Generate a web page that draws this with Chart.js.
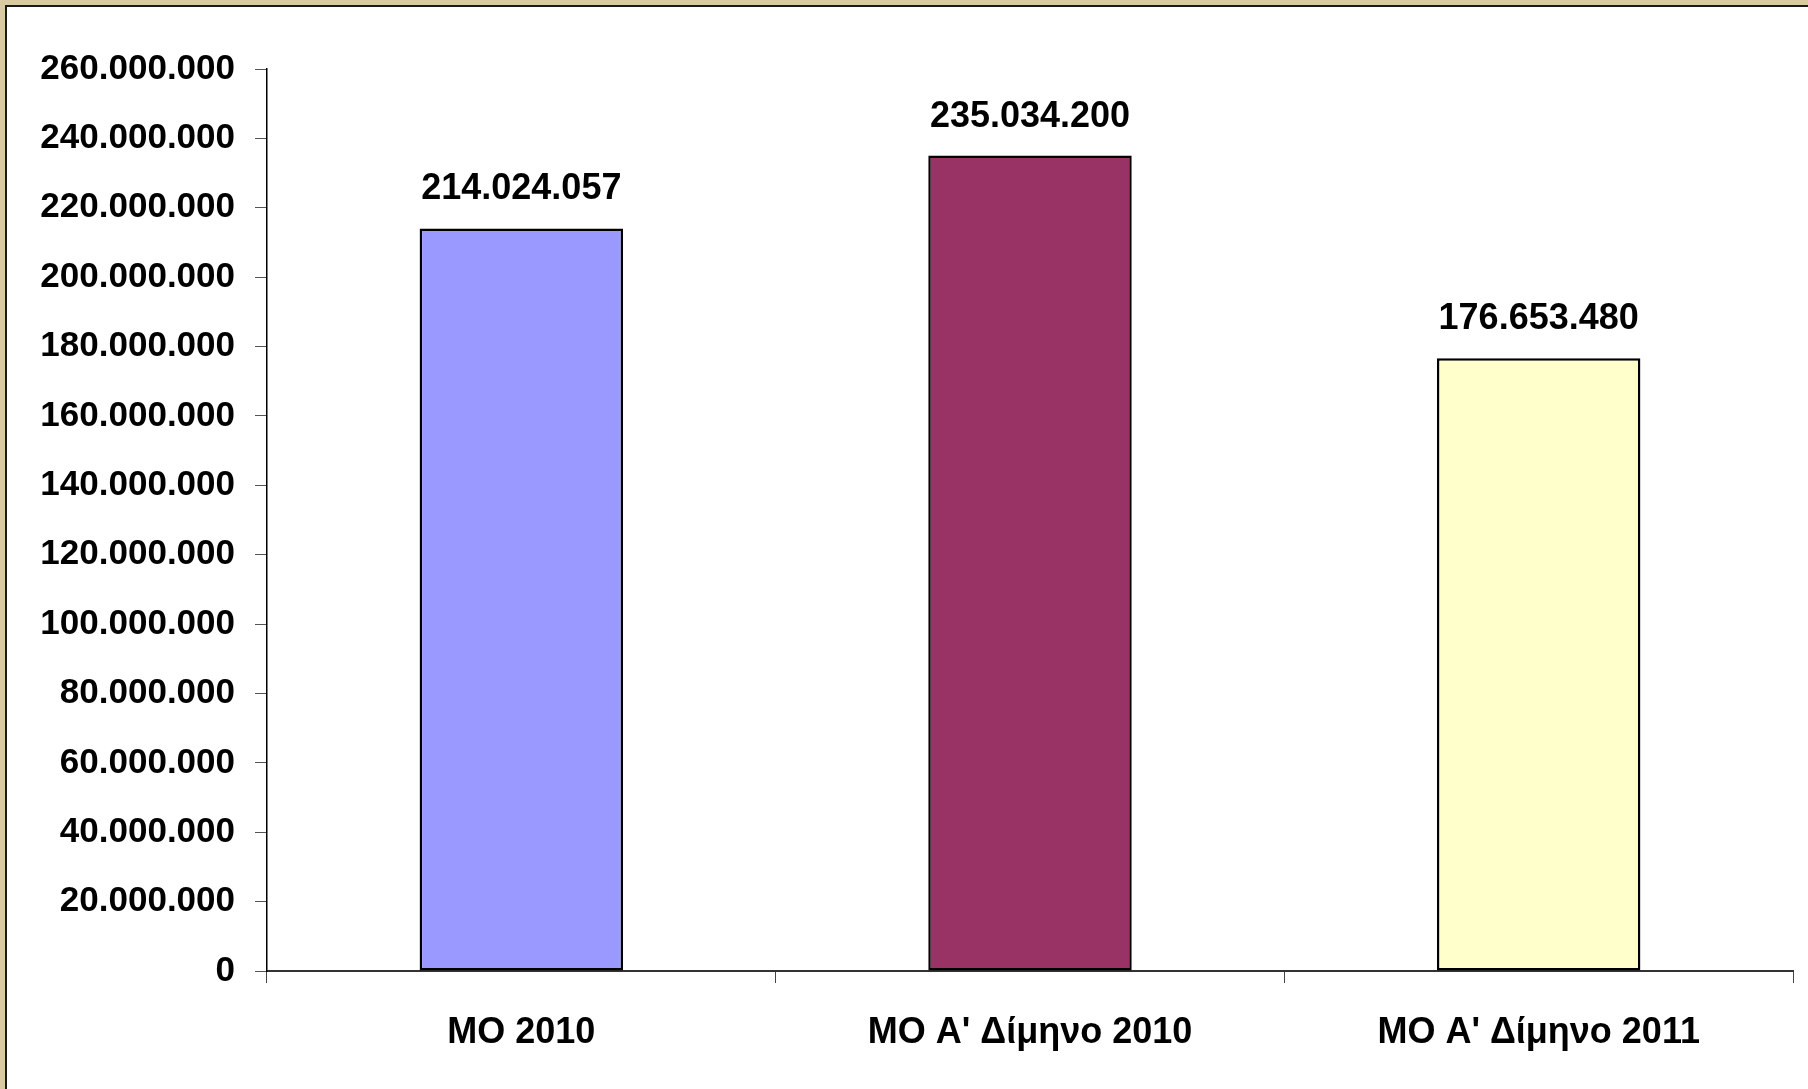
<!DOCTYPE html>
<html>
<head>
<meta charset="utf-8">
<script src="https://cdn.jsdelivr.net/npm/chart.js@4/dist/chart.umd.min.js"></script>
<style>
  html, body { margin: 0; padding: 0; }
  body { width: 1808px; height: 1089px; background: #dacaa4; position: relative; overflow: hidden; }
  #panel { position: absolute; left: 5px; top: 5px; width: 1810px; height: 1090px; background: #fff;
           border-left: 2px solid #1a1a1a; border-top: 2px solid #1a1a1a; }
  #wrap { position: absolute; left: 0; top: 0; width: 1808px; height: 1089px; }
</style>
</head>
<body>
<div id="panel"></div>
<div id="wrap"><canvas id="chart" width="1808" height="1089"></canvas></div>
<script>
// --- data ---
const categories = ['MO 2010', "MO A' Δίμηνο 2010", "MO A' Δίμηνο 2011"];
const values = [214024057, 235034200, 176653480];
const barColors = ['#9999ff', '#993366', '#ffffcc'];
const yMax = 260000000;
const yStep = 20000000;

const FONT = '"Liberation Sans", Arial, sans-serif';

// 214024057 -> 214.024.057
function fmt(v) {
    return String(Math.round(v)).replace(/\B(?=(\d{3})+(?!\d))/g, '.');
}

// value labels above bars
const valueLabels = {
    id: 'valueLabels',
    afterDatasetsDraw(chart) {
        const ctx = chart.ctx;
        const meta = chart.getDatasetMeta(0);
        ctx.save();
        ctx.font = 'bold 36px ' + FONT;
        ctx.fillStyle = '#000';
        ctx.textAlign = 'center';
        ctx.textBaseline = 'middle';
        meta.data.forEach((bar, i) => {
            ctx.fillText(fmt(values[i]), bar.x, bar.y - 39);
        });
        ctx.restore();
    }
};

new Chart(document.getElementById('chart'), {
    type: 'bar',
    data: {
        labels: categories,
        datasets: [{
            data: values,
            backgroundColor: barColors,
            borderColor: '#000',
            borderWidth: 2.5,
            borderSkipped: false,
            categoryPercentage: 1,
            barPercentage: 0.4
        }]
    },
    options: {
        responsive: false,
        animation: false,
        layout: { padding: { top: 69, right: 15, left: 0, bottom: 0 } },
        plugins: {
            legend: { display: false },
            tooltip: { enabled: false }
        },
        scales: {
            x: {
                afterFit(scale) { scale.height = 118; },
                grid: { drawOnChartArea: false, tickLength: 12, color: '#444', offset: true },
                border: { color: '#333', width: 2 },
                ticks: { color: '#000', padding: 28, font: { family: FONT, size: 36, weight: 'bold' } }
            },
            y: {
                min: 0,
                max: yMax,
                afterFit(scale) { scale.width = 267; },
                grid: { drawOnChartArea: false, tickLength: 12, color: '#555' },
                border: { color: '#000', width: 1.5 },
                ticks: {
                    stepSize: yStep,
                    color: '#000',
                    padding: 20,
                    font: { family: FONT, size: 35, weight: 'bold' },
                    callback: v => fmt(v)
                }
            }
        }
    },
    plugins: [valueLabels]
});
</script>
</body>
</html>
